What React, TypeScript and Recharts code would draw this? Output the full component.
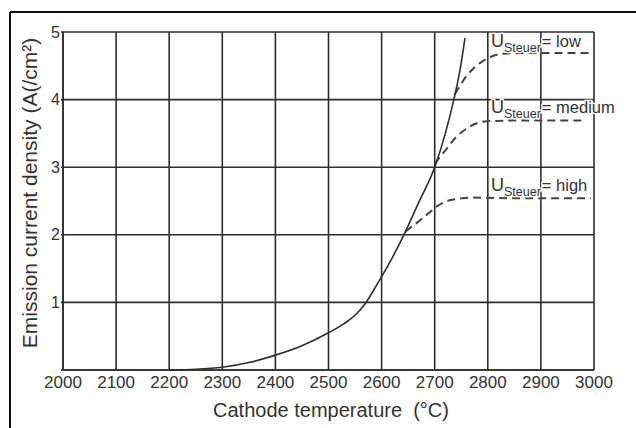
import React from 'react';
import { LineChart, Line, XAxis, YAxis, CartesianGrid } from 'recharts';

// solid emission curve
const solidT = [2200, 2250, 2300, 2350, 2400, 2450, 2500, 2530, 2550, 2570, 2585, 2600, 2620, 2642, 2670, 2700, 2720, 2736, 2748, 2757];
const solidJ = [0, 0.01, 0.04, 0.11, 0.22, 0.36, 0.55, 0.69, 0.81, 0.99, 1.18, 1.38, 1.66, 2.0, 2.48, 3.0, 3.5, 4.0, 4.45, 4.91];

// dashed saturation curves
const lowT = [2738, 2760, 2785, 2805, 2830, 2880, 2994];
const lowJ = [4.08, 4.35, 4.54, 4.63, 4.68, 4.69, 4.69];
const medT = [2700, 2720, 2741, 2760, 2779, 2800, 2850, 2985];
const medJ = [3.05, 3.25, 3.45, 3.57, 3.65, 3.68, 3.69, 3.69];
const highT = [2645, 2670, 2690, 2704, 2720, 2741, 2770, 2850, 2994];
const highJ = [2.05, 2.2, 2.33, 2.42, 2.49, 2.53, 2.55, 2.54, 2.54];

const xTicks = [2000, 2100, 2200, 2300, 2400, 2500, 2600, 2700, 2800, 2900, 3000];
const yTicks = [0, 1, 2, 3, 4, 5];

const levels = ['low', 'medium', 'high'];

const zip = (t: number[], j: number[]) => t.map((x, i) => ({ x, y: j[i] }));

const FONT = '"Liberation Sans", Arial, sans-serif';
const INK = '#2e2e2e';
const TEXT = '#333';

const App: React.FC = () => {
  const labelY = [47, 113, 191];

  return (
    <div style={{ position: 'absolute', left: 0, top: 0, width: 636, height: 428, background: '#fff', overflow: 'hidden' }}>
      <LineChart
        width={636}
        height={428}
        margin={{ top: 32, right: 42, bottom: 28, left: 0 }}
        style={{ fontFamily: FONT }}
      >
        <CartesianGrid stroke={INK} strokeWidth={1.6} horizontalValues={yTicks} verticalValues={xTicks} />
        <XAxis
          type="number"
          dataKey="x"
          domain={[2000, 3000]}
          ticks={xTicks}
          height={30}
          tickLine={false}
          tickSize={4}
          tickMargin={2}
          axisLine={{ stroke: INK, strokeWidth: 1.6 }}
          tick={{ fill: TEXT, fontSize: 17 }}
          allowDataOverflow
        />
        <YAxis
          type="number"
          dataKey="y"
          domain={[0, 5]}
          ticks={yTicks}
          width={63}
          tickSize={2}
          tickMargin={1}
          tickLine={{ stroke: INK, strokeWidth: 1.6 }}
          axisLine={{ stroke: INK, strokeWidth: 1.6 }}
          tick={{ fill: TEXT, fontSize: 16 }}
          tickFormatter={(v: number) => (v === 0 ? '' : String(v))}
        />
        <Line data={zip(lowT, lowJ)} dataKey="y" type="monotone" stroke="#444" strokeWidth={2} strokeDasharray="8 5" dot={false} isAnimationActive={false} />
        <Line data={zip(medT, medJ)} dataKey="y" type="monotone" stroke="#444" strokeWidth={2} strokeDasharray="8 5" dot={false} isAnimationActive={false} />
        <Line data={zip(highT, highJ)} dataKey="y" type="monotone" stroke="#444" strokeWidth={2} strokeDasharray="8 5" dot={false} isAnimationActive={false} />
        <Line data={zip(solidT, solidJ)} dataKey="y" type="monotone" stroke={INK} strokeWidth={1.6} dot={false} isAnimationActive={false} />
      </LineChart>

      <svg width={636} height={428} style={{ position: 'absolute', left: 0, top: 0, fontFamily: FONT }}>
        {/* frame */}
        <line x1={10} y1={12} x2={636} y2={12} stroke="#111" strokeWidth={2} />
        <line x1={10} y1={12} x2={10} y2={428} stroke="#111" strokeWidth={2} />

        {levels.map((lv, i) => (
          <text
            key={lv}
            x={491}
            y={labelY[i]}
            fill={TEXT}
            stroke="#fff"
            strokeWidth={2.5}
            paintOrder="stroke"
          >
            <tspan fontSize={18}>U</tspan>
            <tspan fontSize={12.5} dy={5}>Steuer</tspan>
            <tspan fontSize={16.5} dy={-5} dx={1}>= {lv}</tspan>
          </text>
        ))}

        <text x={331} y={417} textAnchor="middle" fontSize={20} fill={TEXT} xmlSpace="preserve">
          Cathode temperature  (°C)
        </text>
        <text
          x={37}
          y={193}
          textAnchor="middle"
          fontSize={21}
          fill={TEXT}
          transform="rotate(-90 37 193)"
        >
          Emission current density (A(/cm²)
        </text>
      </svg>
    </div>
  );
};

export default App;
